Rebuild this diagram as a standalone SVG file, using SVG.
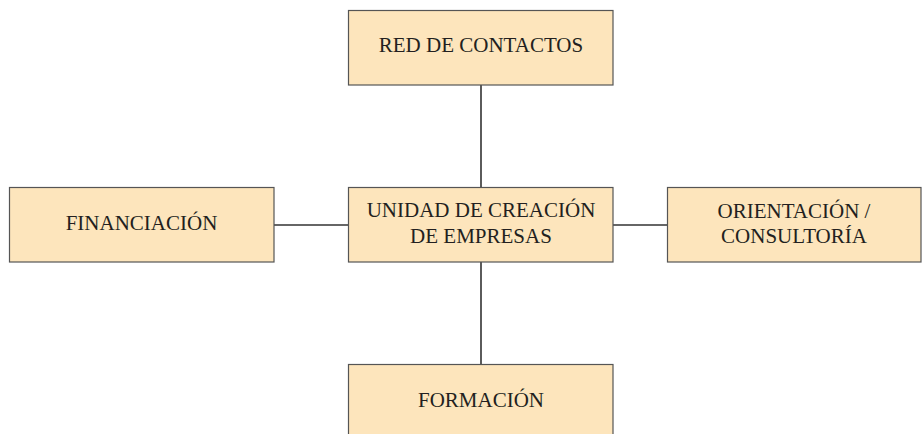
<svg xmlns="http://www.w3.org/2000/svg" width="922" height="434" viewBox="0 0 922 434">
<style>
.box{fill:#fde5bc;stroke:#555555;stroke-width:1.2}
.t{font-family:"Liberation Serif","Times New Roman",serif;font-size:21px;fill:#231f20;text-anchor:middle}
.c{stroke:#333333;stroke-width:1.6;fill:none}
</style>
<rect width="922" height="434" fill="#ffffff"/>
<g id="connectors">
<line class="c" x1="481" y1="85" x2="481" y2="187"/>
<line class="c" x1="481" y1="262" x2="481" y2="364"/>
<line class="c" x1="274" y1="225" x2="348" y2="225"/>
<line class="c" x1="613" y1="225" x2="667" y2="225"/>
</g>
<g id="red">
<rect class="box" x="348.5" y="10.5" width="264.5" height="74.5"/>
<text class="t" x="481" y="52">RED DE CONTACTOS</text>
</g>
<g id="financiacion">
<rect class="box" x="9.5" y="187.5" width="264.5" height="74.5"/>
<text class="t" x="141.5" y="230">FINANCIACIÓN</text>
</g>
<g id="unidad">
<rect class="box" x="348.5" y="187.5" width="264.5" height="74.5"/>
<text class="t" x="481" y="217">UNIDAD DE CREACIÓN</text>
<text class="t" x="481" y="243">DE EMPRESAS</text>
</g>
<g id="orientacion">
<rect class="box" x="667.5" y="187.5" width="253.5" height="74.5"/>
<text class="t" x="794" y="218">ORIENTACIÓN /</text>
<text class="t" x="794" y="243">CONSULTORÍA</text>
</g>
<g id="formacion">
<rect class="box" x="348.5" y="364.5" width="264.5" height="80"/>
<text class="t" x="481" y="407">FORMACIÓN</text>
</g>
</svg>
